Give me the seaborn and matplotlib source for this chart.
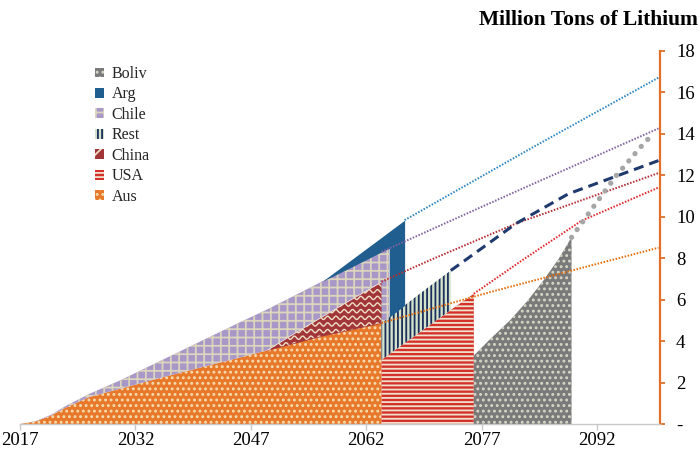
import numpy as np
import matplotlib
matplotlib.use("Agg")
import matplotlib.pyplot as plt
from matplotlib.patches import Patch
import seaborn as sns

# ---- data: cumulative lithium supply by source (million tons) ----
years = [2017, 2019, 2021, 2023, 2026, 2030, 2035, 2040, 2045, 2049, 2053, 2056.3, 2060,
         2064, 2064, 2065, 2065, 2067, 2067, 2070, 2073, 2073, 2076, 2076,
         2078, 2080.7, 2083, 2085, 2087, 2088.7, 2088.7]

# layer thickness per year, stacked bottom -> top in this order
aus = [0, 0.12, 0.40, 0.80, 1.30, 1.70, 2.20, 2.68, 3.15, 3.54, 3.93, 4.25, 4.55, 4.87,
       0, 0, 0, 0, 0, 0, 0, 0, 0, 0, 0, 0, 0, 0, 0, 0, 0]
usa = [0] * 14 + [3.10, 3.37, 3.37, 3.90, 3.90, 4.70, 5.50, 5.50, 6.28] + [0] * 8
china = [0] * 10 + [0.52, 0.93, 1.45, 1.99] + [0] * 17
rest = [0] * 14 + [1.77, 1.78, 1.78, 1.82, 1.82, 1.87, 1.90] + [0] * 10
chile = [0, 0.01, 0.04, 0.08, 0.15, 0.40, 0.80, 1.22, 1.65, 1.96, 1.80, 1.70, 1.55, 1.44,
         3.43, 3.32] + [0] * 15
arg = [0] * 12 + [0.35, 0.70, 0.70, 0.81, 4.13, 4.11] + [0] * 13
boliv = [0] * 23 + [3.30, 4.05, 5.00, 5.95, 6.90, 7.95, 9.00, 0]

# projected cumulative supply after each source's plotted period
aus_proj_years, aus_proj = [2064, 2078, 2100], [4.87, 6.35, 8.5]
china_proj_years, china_proj = [2064, 2070.3, 2081.5, 2100], [6.86, 7.9, 9.67, 12.1]
chile_proj_years, chile_proj = [2064, 2082, 2100], [8.3, 11.3, 14.25]
arg_proj_years, arg_proj = [2067, 2083.7, 2100], [9.83, 13.35, 16.7]
usa_proj_years, usa_proj = [2076, 2082.3, 2090, 2100], [6.28, 7.9, 9.8, 11.4]
rest_proj_years, rest_proj = [2073, 2074.7, 2081.5, 2088.3, 2100], [7.4, 7.85, 9.67, 11.1, 12.7]
boliv_proj_years, boliv_proj = [2088.7, 2091.6, 2094.5, 2097.7, 2099.4], [9.0, 10.5, 11.97, 13.36, 14.04]

x_ticks = [2017, 2032, 2047, 2062, 2077, 2092]
y_ticks = [0, 2, 4, 6, 8, 10, 12, 14, 16, 18]
y_tick_labels = ["-", "2", "4", "6", "8", "10", "12", "14", "16", "18"]

# ---- styling ----
sns.set_theme(style="white")
plt.rcParams["font.family"] = ["Liberation Serif", "DejaVu Serif"]
plt.rcParams["hatch.linewidth"] = 1.3

ORANGE_AXIS = "#E0702A"
layers = [
    # name, values, face, hatch colour, hatch
    ("Aus", aus, "#E8782A", "#F6DDB0", "..."),
    ("USA", usa, "#D5312B", "#EFE2CF", "----"),
    ("China", china, "#A23538", None, None),
    ("Rest", rest, "#D3E3CC", "#1C2E5C", "||||"),
    ("Chile", chile, "#A898C8", "#DCD4BC", "++"),
    ("Arg", arg, "#1F5E8E", "#1F5E8E", None),
    ("Boliv", boliv, "#7A7A7A", "#D8D8C8", "..."),
]

fig = plt.figure(figsize=(7, 4.5), dpi=100)
ax = fig.add_axes([20 / 700, 26 / 450, 640 / 700, 373.3 / 450])

x = np.array(years, dtype=float)
base = np.zeros(len(x))
collections = {}
for name, vals, face, hcol, hatch in layers:
    v = np.array(vals, dtype=float)
    top = base + v
    on = v > 0
    mask = on | np.r_[on[1:], False] | np.r_[False, on[:-1]]
    coll = ax.fill_between(x, base, top, where=mask, facecolor=face,
                           edgecolor=hcol if hcol else face, hatch=hatch,
                           linewidth=0, zorder=2)
    collections[name] = coll
    base = top

# wavy texture inside the China band
china_path = collections["China"].get_paths()[0]
wx = np.linspace(2047, 2066, 800)
for y0 in np.arange(3.2, 7.3, 0.32):
    wy = y0 + 0.08 * np.sin(2 * np.pi * (wx - 2047) / 1.08)
    ln, = ax.plot(wx, wy, color="#EDE2C6", lw=1.0, zorder=3)
    ln.set_clip_path(china_path, ax.transData)

# projection lines
dot = (0, (0.8, 0.8))
sns.lineplot(x=aus_proj_years, y=aus_proj, ax=ax, color="#E46C0A", lw=1.4,
             linestyle=dot, estimator=None, sort=False, zorder=5)
sns.lineplot(x=china_proj_years, y=china_proj, ax=ax, color="#B52E32", lw=1.4,
             linestyle=dot, estimator=None, sort=False, zorder=5)
sns.lineplot(x=chile_proj_years, y=chile_proj, ax=ax, color="#8064A2", lw=1.4,
             linestyle=dot, estimator=None, sort=False, zorder=5)
sns.lineplot(x=arg_proj_years, y=arg_proj, ax=ax, color="#2E86C1", lw=1.4,
             linestyle=dot, estimator=None, sort=False, zorder=5)
sns.lineplot(x=usa_proj_years, y=usa_proj, ax=ax, color="#E0262A", lw=1.4,
             linestyle=dot, estimator=None, sort=False, zorder=5)
sns.lineplot(x=rest_proj_years, y=rest_proj, ax=ax, color="#1F3A6E", lw=2.2,
             linestyle=(0, (3.3, 2.0)), estimator=None, sort=False, zorder=5)
sns.lineplot(x=boliv_proj_years, y=boliv_proj, ax=ax, color="#A6A6A6", lw=3.8,
             linestyle=(0, (0.01, 1.8)), dash_capstyle="round",
             estimator=None, sort=False, zorder=5)

# axes
ax.set_xlim(2017, 2100.2)
ax.set_ylim(0, 18)
ax.set_xlabel("")
ax.set_ylabel("")
ax.set_xticks(x_ticks)
ax.set_xticklabels([str(t) for t in x_ticks])
ax.set_yticks(y_ticks)
ax.set_yticklabels(y_tick_labels)
ax.grid(False)

for s in ("top", "left"):
    ax.spines[s].set_visible(False)
ax.spines["right"].set_visible(True)
ax.spines["right"].set_color(ORANGE_AXIS)
ax.spines["right"].set_linewidth(1.6)
ax.spines["bottom"].set_color("#C8C8C8")
ax.spines["bottom"].set_linewidth(1.0)

ax.tick_params(axis="y", left=False, right=True, labelleft=False, labelright=True,
               direction="out", length=3.5, width=1.3, color=ORANGE_AXIS,
               pad=8, labelsize=13.5, labelcolor="black")
ax.tick_params(axis="x", bottom=True, direction="out", length=4, width=1.0,
               color="#C8C8C8", pad=2, labelsize=13.5, labelcolor="black")

# legend (top of stack first)
handles = []
for name, vals, face, hcol, hatch in reversed(layers):
    if name == "China":
        handles.append(Patch(facecolor=face, edgecolor="#EDE2C6", hatch="//",
                             linewidth=0, label=name))
    else:
        handles.append(Patch(facecolor=face, edgecolor=hcol, hatch=hatch,
                             linewidth=0, label=name))
fig.legend(handles=handles, loc="upper left", bbox_to_anchor=(95 / 700, 1 - 66 / 450),
           frameon=False, fontsize=11.5, handlelength=0.55, handleheight=0.55,
           handletextpad=0.5, labelspacing=0.28, borderpad=0, borderaxespad=0)

fig.text(698 / 700, 1 - 20 / 450, "Million Tons of Lithium", ha="right", va="center",
         fontsize=15.5, fontweight="bold", color="black")

fig.savefig("out.png", dpi=100)
